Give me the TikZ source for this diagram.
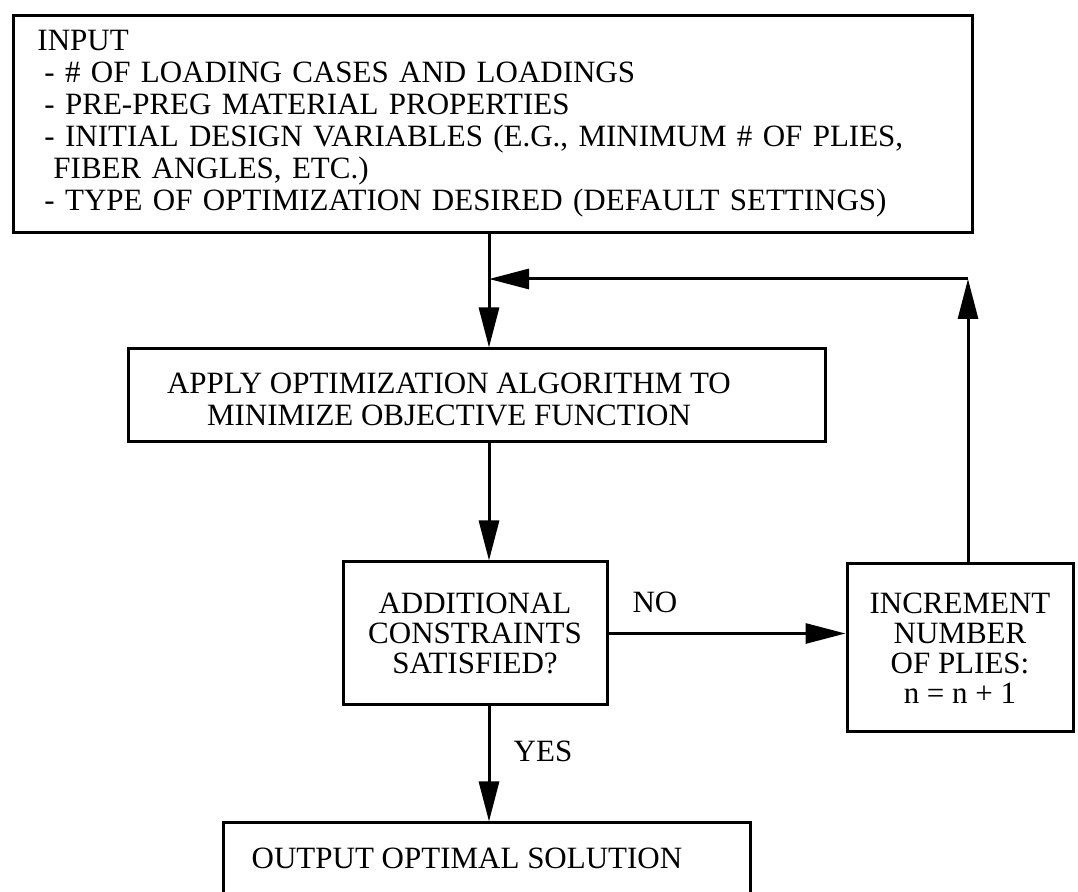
\documentclass[tikz,border=0pt]{standalone}
\usepackage{fontspec}
\setmainfont{Liberation Serif}
\usetikzlibrary{arrows.meta}

\begin{document}
\begin{tikzpicture}[x=0.5pt, y=-0.5pt,
    every node/.style={font=\fontsize{15.5pt}{16pt}\selectfont},
    box/.style={draw, line width=1.5pt, inner sep=0pt, align=center},
    small/.style={font=\fontsize{15.5pt}{15pt}\selectfont},
    flow/.style={line width=1.5pt, -{Triangle[length=20pt, width=10pt]}}]
\useasboundingbox (0,0) rectangle (1078,892);
\node[box, anchor=north west, align=left, text width=455.5pt, inner xsep=12pt, minimum height=108.5pt] (input) at (12,14)
    {INPUT\\
     \hspace*{3.5pt}- \# OF LOADING CASES AND LOADINGS\\
     \hspace*{3.5pt}- PRE-PREG MATERIAL PROPERTIES\\
     \hspace*{3.5pt}- INITIAL DESIGN VARIABLES (E.G., MINIMUM \# OF PLIES,\\
     \hspace*{8pt}FIBER ANGLES, ETC.)\\
     \hspace*{3.5pt}- TYPE OF OPTIMIZATION DESIRED (DEFAULT SETTINGS)};
\node[box, minimum width=348.5pt, minimum height=46.5pt] (apply) at (476.5,395.5) {};
\node[align=center] (applytext) at (449,399.5) {APPLY OPTIMIZATION ALGORITHM TO\\MINIMIZE OBJECTIVE FUNCTION};
\node[box, small, minimum width=132pt, minimum height=71.5pt] (check) at (475,633.5) {ADDITIONAL\\CONSTRAINTS\\SATISFIED?};
\node[box, small, minimum width=113pt, minimum height=84pt] (incr) at (960,648) {INCREMENT\\NUMBER\\OF PLIES:\\n = n + 1};
\node[box, minimum width=263.5pt, minimum height=35.5pt] (output) at (486.5,858.5) {};
\node (outtext) at (467,858.5) {OUTPUT OPTIMAL SOLUTION};
\node (no) at (655,602) {NO};
\node (yes) at (543,751) {YES};
\coordinate (join) at (489,279);
\coordinate (riser) at (968,279);

\draw[flow] (input.south -| join) -- (apply.north -| join);
\draw[flow] (apply.south -| join) -- (check.north -| join);
\draw[flow] (check.south -| join) -- (output.north -| join);
\draw[flow] (check.east) -- (check.east -| incr.west);
\draw[flow] (incr.north -| riser) -- (riser);
\draw[flow] (riser) -- (join);
\end{tikzpicture}
\end{document}
